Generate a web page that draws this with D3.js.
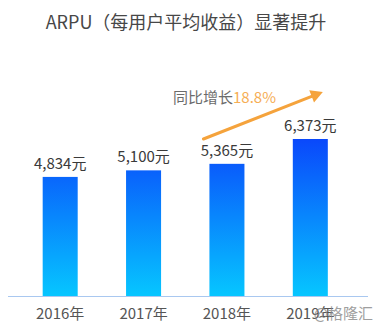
<!DOCTYPE html>
<html><head><meta charset="utf-8">
<script src="https://cdn.jsdelivr.net/npm/d3@7"></script>
<style>html,body{margin:0;padding:0;background:#fff;}</style>
</head><body>
<svg id="c" width="379" height="329"></svg>
<script>
const titleText = "ARPU（每用户平均收益）显著提升";
const years = ["2016年","2017年","2018年","2019年"];
const arpu = [4834, 5100, 5365, 6373];
const growthLabel = "同比增长";
const growthValue = "18.8%";
const watermark = "@格隆汇";

const svg = d3.select("#c");
const font = "'Noto Sans CJK SC','Noto Sans',sans-serif";
const baseY = 296, topY = 139;

const x = d3.scaleBand().domain(years).range([18.5, 352]).paddingInner(0.58).paddingOuter(0.29);
const y = d3.scaleLinear().domain([0, d3.max(arpu)]).range([baseY, topY]);

const defs = svg.append("defs");
const g = defs.append("linearGradient").attr("id","bg").attr("gradientUnits","userSpaceOnUse")
  .attr("x1",0).attr("x2",0).attr("y1",topY).attr("y2",baseY);
g.append("stop").attr("offset","0%").attr("stop-color","#0a48fb");
g.append("stop").attr("offset","100%").attr("stop-color","#06c6ff");

svg.append("text").attr("x",186).attr("y",29).attr("text-anchor","middle")
  .attr("font-family",font).attr("font-size",18).attr("fill","#474747").text(titleText);

svg.selectAll("rect.bar").data(arpu).join("rect").attr("class","bar")
  .attr("x",(d,i)=>x(years[i])).attr("width",x.bandwidth())
  .attr("y",d=>y(d)).attr("height",d=>baseY-y(d)).attr("fill","url(#bg)");

svg.append("line").attr("x1",8).attr("x2",368).attr("y1",baseY+0.5).attr("y2",baseY+0.5)
  .attr("stroke","#a9c8f0").attr("stroke-width",1);

svg.selectAll("text.val").data(arpu).join("text").attr("class","val")
  .attr("x",(d,i)=>x(years[i])+x.bandwidth()/2).attr("y",d=>y(d)-8)
  .attr("text-anchor","middle").attr("font-family",font).attr("font-size",15).attr("fill","#3a3a3a")
  .text(d=>d3.format(",")(d)+"元");

svg.selectAll("text.yr").data(years).join("text").attr("class","yr")
  .attr("x",d=>x(d)+x.bandwidth()/2).attr("y",319)
  .attr("text-anchor","middle").attr("font-family",font).attr("font-size",15).attr("fill","#555")
  .text(d=>d);

// growth arrow from 2018 bar area toward above 2019
const ax1 = x(years[2]) - 6, ay1 = y(arpu[3]);
const ax2 = x(years[3]) + x.bandwidth() - 5, ay2 = y(arpu[3]) - 47;
const ang = Math.atan2(ay2-ay1, ax2-ax1);
const hl = 12, hw = 6.5;
const bx = ax2 - hl*Math.cos(ang), by = ay2 - hl*Math.sin(ang);
svg.append("line").attr("x1",ax1).attr("y1",ay1).attr("x2",bx).attr("y2",by)
  .attr("stroke","#f5a33c").attr("stroke-width",3).attr("stroke-linecap","round");
svg.append("path").attr("d",`M${ax2},${ay2}L${bx+hw*Math.sin(ang)},${by-hw*Math.cos(ang)}L${bx-hw*Math.sin(ang)},${by+hw*Math.cos(ang)}Z`)
  .attr("fill","#f5a33c");

const gt = svg.append("text").attr("x",173).attr("y",102.5).attr("font-family",font).attr("font-size",15);
gt.append("tspan").attr("fill","#6b6b6b").text(growthLabel);
gt.append("tspan").attr("fill","#f6ae55").text(growthValue);

svg.append("text").attr("x",373).attr("y",319).attr("text-anchor","end")
  .attr("font-family",font).attr("font-size",15).attr("fill","#888").attr("opacity",0.8).text(watermark);
</script>
</body></html>
